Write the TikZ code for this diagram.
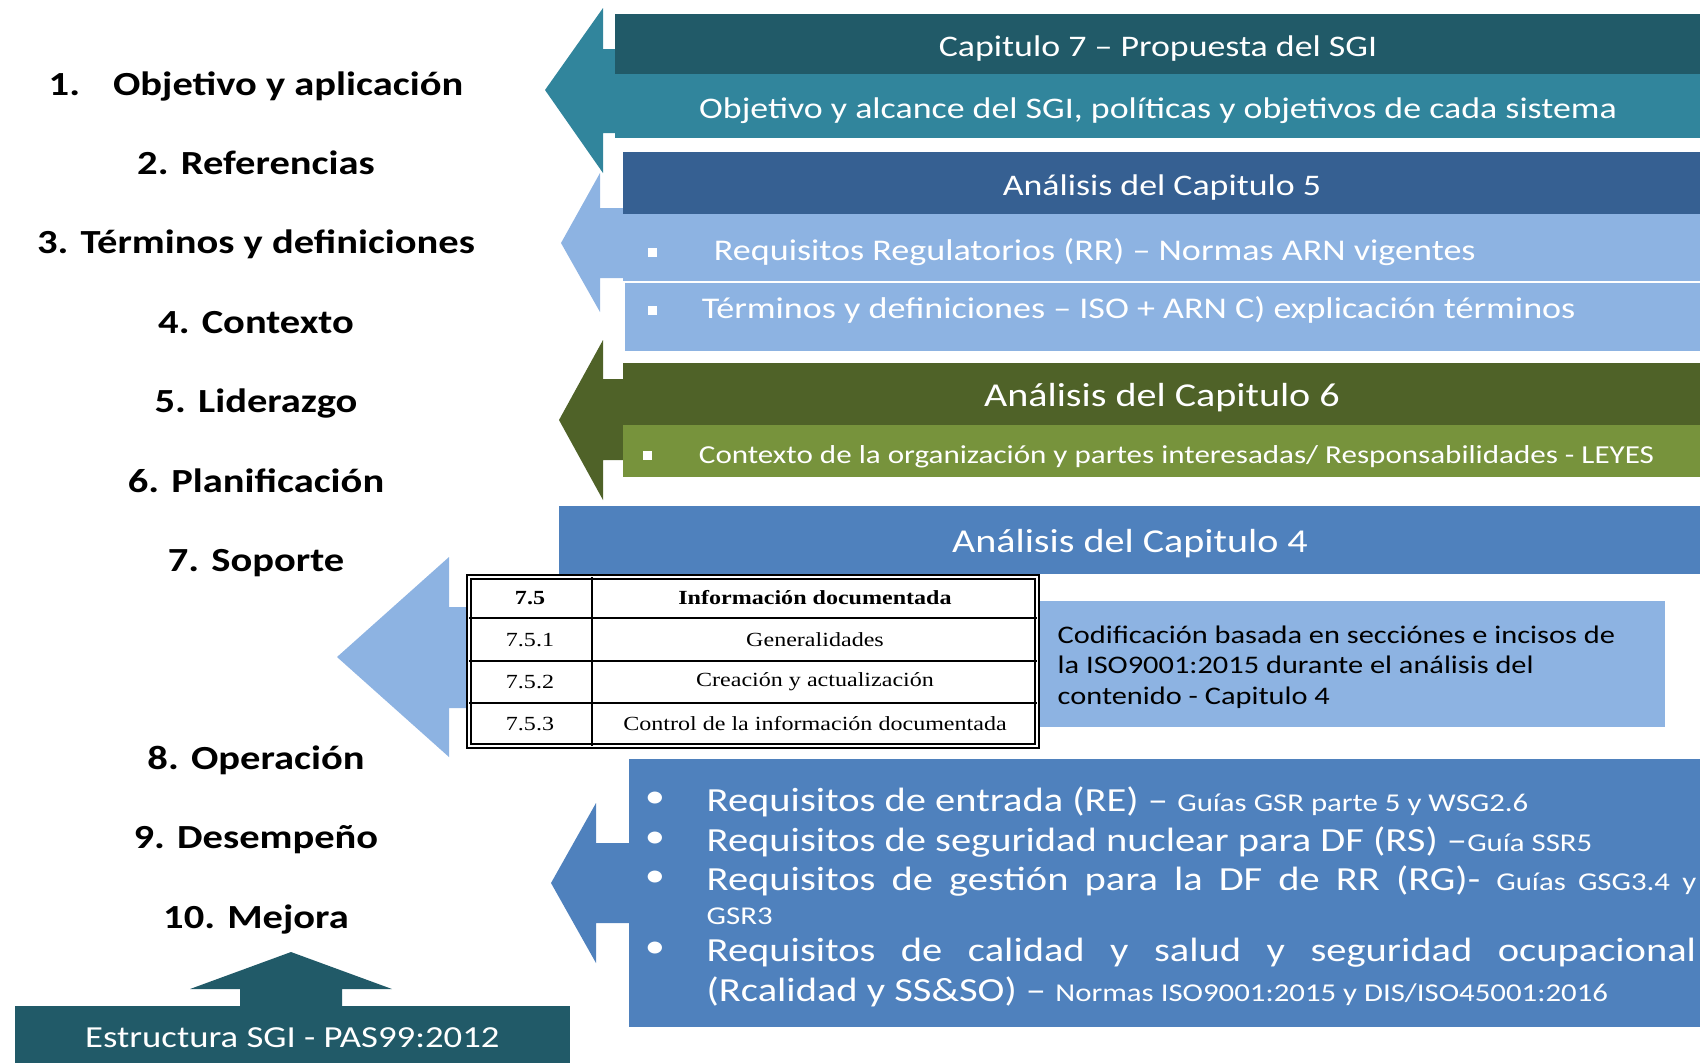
\documentclass[tikz,border=0pt]{standalone}
\usepackage{fontspec}
\setmainfont{Carlito}[FakeStretch=1.2]
\newfontfamily\tablafont{Liberation Serif}[FakeStretch=1.2]
\usepackage{xcolor}
\usepackage{tikz}
\usetikzlibrary{positioning}
\definecolor{tealosc}{HTML}{215A68}
\definecolor{tealcl}{HTML}{31859C}
\definecolor{azulosc}{HTML}{366092}
\definecolor{azulcl}{HTML}{8DB3E2}
\definecolor{azulmed}{HTML}{4F81BD}
\definecolor{verdeosc}{HTML}{4F6228}
\definecolor{verdecl}{HTML}{77933C}
\newcommand\chico{\fontsize{7.3}{9}\selectfont}
\tikzset{
  banda/.style    = {rectangle, anchor=north west, inner sep=0pt, text=white,
                     text height=8.6pt, text depth=1.5pt, font=\fontsize{8.5}{10}\selectfont},
  etiqueta/.style = {inner sep=0pt, text height=0.25cm, text depth=0.07cm,
                     font=\fontsize{9.6}{11}\selectfont\bfseries},
  texto/.style    = {inner sep=0pt, text=white, text height=6.7pt, text depth=1.8pt,
                     font=\fontsize{8.55}{10}\selectfont},
  vineta/.style   = {rectangle, fill=white, minimum size=0.09cm, inner sep=0pt},
  punto/.style    = {inner sep=0pt, text=white, font=\fontsize{9.6}{11}\selectfont},
  linea/.style    = {anchor=west, inner sep=0pt, text=white, text height=8pt,
                     text depth=1.7pt, font=\fontsize{9.6}{11}\selectfont},
  celda/.style    = {inner sep=0pt, font=\tablafont\fontsize{5.7}{7}\selectfont},
  rejilla/.style  = {line width=0.6pt}
}
\begin{document}
\begin{tikzpicture}[x=0.01cm, y=-0.01cm, node distance=0.46cm]
  \useasboundingbox (0,0) rectangle (1700,1062);
  % capitulos de la norma
  \node[etiqueta] (l1) at (256,86) {1.\hspace{0.33cm}Objetivo y aplicación};
  \node[etiqueta] (l2)  [below=of l1] {2. Referencias};
  \node[etiqueta] (l3)  [below=of l2] {3. Términos y definiciones};
  \node[etiqueta] (l4)  [below=of l3] {4. Contexto};
  \node[etiqueta] (l5)  [below=of l4] {5. Liderazgo};
  \node[etiqueta] (l6)  [below=of l5] {6. Planificación};
  \node[etiqueta] (l7)  [below=of l6] {7. Soporte};
  \node[etiqueta] (l8)  [below=1.64cm of l7] {8. Operación};
  \node[etiqueta] (l9)  [below=of l8] {9. Desempeño};
  \node[etiqueta] (l10) [below=of l9] {10. Mejora};
  % flechas
  \fill[tealcl] (545,90) -- (603,8) -- (603,49) -- (640,49) -- (640,133)
    -- (603,133) -- (603,173) -- cycle;
  \fill[azulcl] (561,243) -- (600,173) -- (600,208) -- (640,208) -- (640,278)
    -- (600,278) -- (600,312) -- cycle;
  \fill[verdeosc] (559,420) -- (603,340) -- (603,379) -- (640,379) -- (640,460)
    -- (603,460) -- (603,500) -- cycle;
  \fill[azulcl] (337,657) -- (449,557) -- (449,607) -- (500,607) -- (500,708)
    -- (449,708) -- (449,757) -- cycle;
  \fill[azulmed] (551,883) -- (596,803) -- (596,843) -- (640,843) -- (640,923)
    -- (596,923) -- (596,963) -- cycle;
  \fill[tealosc] (291,952) -- (392,989) -- (342,989) -- (342,1010) -- (240,1010)
    -- (240,989) -- (190,989) -- cycle;
  % capitulo 7
  \node[banda, fill=tealosc, minimum width=10.86cm, minimum height=0.60cm]
    (cap7) at (614,13) {Capitulo 7 – Propuesta del SGI};
  \node[banda, fill=tealcl, minimum width=10.86cm, minimum height=0.64cm]
    (obj7) at (614,73) {Objetivo y alcance del SGI, políticas y objetivos de cada sistema};
  % capitulo 5
  \node[banda, fill=azulosc, minimum width=10.78cm, minimum height=0.62cm]
    (cap5) at (622,151) {Análisis del Capitulo 5};
  \node[banda, fill=azulcl, minimum width=10.78cm, minimum height=0.67cm] (rr5) at (622,213) {};
  \node[banda, fill=azulcl, minimum width=10.76cm, minimum height=0.68cm] (td5) at (624,282) {};
  \node[vineta] (v1) at (652,252) {};
  \node[texto] (rr) [right=0.56cm of v1] {Requisitos Regulatorios (RR) – Normas ARN vigentes};
  \node[vineta] (v2) at (652,310) {};
  \node[texto] (td) [right=0.44cm of v2] {Términos y definiciones – ISO + ARN C) explicación términos};
  % capitulo 6
  \node[banda, fill=verdeosc, minimum width=10.78cm, minimum height=0.62cm,
    font=\fontsize{9.5}{11}\selectfont] (cap6) at (622,362) {Análisis del Capitulo 6};
  \node[banda, fill=verdecl, minimum width=10.78cm, minimum height=0.52cm] (ctx6) at (622,424) {};
  \node[vineta] (v3) at (647,455) {};
  \node[texto, font=\fontsize{7.36}{9}\selectfont] (ctx) [right=0.46cm of v3]
    {Contexto de la organización y partes interesadas/ Responsabilidades - LEYES};
  % capitulo 4
  \node[banda, fill=azulmed, minimum width=11.42cm, minimum height=0.68cm,
    font=\fontsize{9.5}{11}\selectfont] (cap4) at (558,505) {Análisis del Capitulo 4};
  \node[banda, fill=azulcl, minimum width=6.25cm, minimum height=1.26cm] (codif) at (1039,600) {};
  \node[texto, text=black, anchor=west, align=left, text height=, text depth=,
    font=\fontsize{7.2}{8.7}\selectfont] (codiftxt) at (1057,667)
    {Codificación basada en secciónes e incisos de\\la ISO9001:2015 durante el análisis del\\contenido - Capitulo 4};
  % tabla 7.5
  \fill[white] (468,576) rectangle (1038,747);
  \draw[double, double distance=0.5pt, line width=0.6pt] (469,577) rectangle (1037,746);
  \draw[rejilla] (592,577) -- (592,746);
  \draw[rejilla] (469,618) -- (1037,618);
  \draw[rejilla] (469,661) -- (1037,661);
  \draw[rejilla] (469,703) -- (1037,703);
  \node[celda, font=\tablafont\fontsize{5.7}{7}\selectfont\bfseries] (t0a) at (530,598) {7.5};
  \node[celda, font=\tablafont\fontsize{5.7}{7}\selectfont\bfseries] (t0b) at (815,598) {Información documentada};
  \node[celda] (t1a) at (530,640) {7.5.1};
  \node[celda] (t1b) at (815,640) {Generalidades};
  \node[celda] (t2a) at (530,682) {7.5.2};
  \node[celda] (t2b) at (815,682) {Creación y actualización};
  \node[celda] (t3a) at (530,724) {7.5.3};
  \node[celda] (t3b) at (815,724) {Control de la información documentada};
  % requisitos
  \node[banda, fill=azulmed, minimum width=10.72cm, minimum height=2.68cm] (reqs) at (628,758) {};
  \node[punto] (p1) at (655,800) {\textbullet};
  \node[linea] (re) at (706,800) {Requisitos de entrada (RE) – {\chico Guías GSR parte 5 y WSG2.6}};
  \node[punto] (p2) at (655,840) {\textbullet};
  \node[linea] (rs) at (706,840) {Requisitos de seguridad nuclear para DF (RS) –{\chico Guía SSR5}};
  \node[punto] (p3) at (655,879) {\textbullet};
  \node[linea] (rg) at (706,879)
    {\makebox[9.89cm][s]{Requisitos de gestión para la DF de RR (RG)- {\chico Guías GSG3.4 y}}};
  \node[linea, font=\chico] (rg2) at (706,913) {GSR3};
  \node[punto] (p4) at (655,950) {\textbullet};
  \node[linea] (rc) at (706,950)
    {\makebox[9.89cm][s]{Requisitos de calidad y salud y seguridad ocupacional}};
  \node[linea] (rc2) at (706,990)
    {(Rcalidad y SS\&SO) – {\chico Normas ISO9001:2015 y DIS/ISO45001:2016}};
  % estructura
  \node[banda, fill=tealosc, minimum width=5.55cm, minimum height=0.57cm, text height=9.2pt,
    font=\fontsize{8.7}{10}\selectfont] (estr) at (14,1005) {Estructura SGI - PAS99:2012};
\end{tikzpicture}
\end{document}
